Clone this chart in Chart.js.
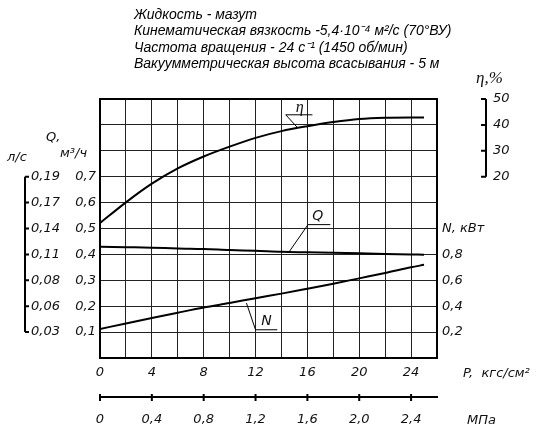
<!DOCTYPE html>
<html lang="ru">
<head>
  <meta charset="UTF-8">
  <title>Характеристика насоса</title>
  <script src="https://cdn.jsdelivr.net/npm/chart.js"></script>
  <style>
    body { margin: 0; background: #fff; }
    #wrap { width: 555px; height: 434px; }
  </style>
</head>
<body>
  <div id="wrap"><canvas id="pumpChart"></canvas></div>

  <script>
    // pressure, kgf/cm2
    const pressure = [0, 2, 4, 6, 8, 10, 12, 14, 16, 18, 20, 22, 24, 25];
    // efficiency, %
    const efficiency = [2.1, 10.1, 17.3, 23.2, 27.8, 31.6, 35.0, 37.6, 39.5, 41.1, 42.3, 42.8, 42.9, 42.9];
    // flow, m3/h
    const flowM3h = [0.430, 0.428, 0.426, 0.423, 0.421, 0.417, 0.414, 0.410, 0.408, 0.406, 0.404, 0.402, 0.400, 0.399];
    // power, kW
    const powerKw = [0.224, 0.267, 0.309, 0.350, 0.390, 0.425, 0.462, 0.497, 0.535, 0.574, 0.615, 0.656, 0.700, 0.720];

    // tick labels
    const pressureTicks = ['0', '4', '8', '12', '16', '20', '24'];
    const mpaTicks = ['0', '0,4', '0,8', '1,2', '1,6', '2,0', '2,4'];
    const flowM3hTicks = ['0,1', '0,2', '0,3', '0,4', '0,5', '0,6', '0,7'];
    const flowLsTicks = ['0,03', '0,06', '0,08', '0,11', '0,14', '0,17', '0,19'];
    const powerTicks = ['0,2', '0,4', '0,6', '0,8'];
    const etaTicks = ['20', '30', '40', '50'];

    const titleLines = [
      'Жидкость - мазут',
      'Кинематическая вязкость -5,4·10⁻⁴ м²/с (70°ВУ)',
      'Частота вращения - 24 с⁻¹ (1450 об/мин)',
      'Вакуумметрическая высота всасывания - 5 м'
    ];

    const tickFont = { family: '"DejaVu Sans", sans-serif', size: 13, style: 'italic', weight: 200 };
    const tickCss = 'italic 200 13px "DejaVu Sans", sans-serif';

    // curve callouts, in x / Q-axis units
    const callouts = [
      { text: 'η', tx: 15.4, ty: 0.966, u0: 14.33, u1: 16.39, uy: 0.939, ex: 15.19, ey: 0.892, serif: true },
      { text: 'Q', tx: 16.8, ty: 0.546, u0: 16.05, u1: 17.77, uy: 0.515, ex: 14.58, ey: 0.409 },
      { text: 'N', tx: 12.84, ty: 0.14, u0: 12.0, u1: 13.68, uy: 0.109, ex: 11.3, ey: 0.212 }
    ];

    const toXY = (ys) => pressure.map((p, i) => ({ x: p, y: ys[i] }));

    const decor = {
      id: 'decor',
      afterDraw(chart) {
        const { ctx, scales } = chart;
        const x = scales.x, y = scales.y, ls = scales.yLs, eta = scales.yEta, mpa = scales.xMpa;
        ctx.save();
        ctx.strokeStyle = '#000';
        ctx.fillStyle = '#000';

        // header
        ctx.font = 'italic 14px "Liberation Sans", Arial, sans-serif';
        ctx.textBaseline = 'middle';
        ctx.textAlign = 'left';
        titleLines.forEach((t, i) => ctx.fillText(t, 134, 15 + i * 16.5));

        // l/s bracket
        ctx.lineWidth = 2;
        const lx = ls.left + 25;
        ctx.beginPath();
        ctx.moveTo(lx, ls.getPixelForValue(0.7));
        ctx.lineTo(lx, ls.getPixelForValue(0.1));
        for (let i = 1; i <= 7; i++) {
          const py = ls.getPixelForValue(i / 10);
          ctx.moveTo(lx, py);
          ctx.lineTo(lx + 4, py);
        }
        ctx.stroke();

        // eta bracket
        const ex = eta.left - 3;
        ctx.beginPath();
        ctx.moveTo(ex, eta.getPixelForValue(50));
        ctx.lineTo(ex, eta.getPixelForValue(20));
        for (let v = 20; v <= 50; v += 10) {
          const py = eta.getPixelForValue(v);
          ctx.moveTo(ex - 5, py);
          ctx.lineTo(ex, py);
        }
        ctx.stroke();

        // MPa tick marks
        ctx.beginPath();
        mpa.ticks.forEach(t => {
          const px = mpa.getPixelForValue(t.value);
          ctx.moveTo(px, mpa.top - 3);
          ctx.lineTo(px, mpa.top + 4);
        });
        ctx.stroke();

        // axis titles
        ctx.font = tickCss;
        ctx.fillStyle = '#111';
        ctx.fillText('Q,', 46, 138);
        ctx.fillText('м³/ч', 60, 154);
        ctx.fillText('л/с', 7, 158);
        ctx.fillText('P,  кгс/см²', 463, 374);
        ctx.fillText('МПа', 467, 421);
        ctx.font = 'italic 17px "Liberation Serif", serif';
        ctx.fillText('η,%', 476, 79);

        // callouts
        ctx.lineWidth = 1;
        callouts.forEach(c => {
          const x0 = x.getPixelForValue(c.u0), x1 = x.getPixelForValue(c.u1);
          const uy = y.getPixelForValue(c.uy);
          ctx.beginPath();
          ctx.moveTo(x1, uy);
          ctx.lineTo(x0, uy);
          ctx.lineTo(x.getPixelForValue(c.ex), y.getPixelForValue(c.ey));
          ctx.stroke();
          ctx.font = c.serif ? 'italic 16px "Liberation Serif", serif' : 'italic 200 14px "DejaVu Sans", sans-serif';
          ctx.textAlign = 'center';
          ctx.fillText(c.text, x.getPixelForValue(c.tx), y.getPixelForValue(c.ty));
          ctx.textAlign = 'left';
        });
        ctx.restore();
      }
    };

    const line = (data, axis) => ({
      data: data,
      yAxisID: axis,
      borderColor: '#000',
      borderWidth: 2,
      pointRadius: 0,
      fill: false,
      tension: 0.4,
      cubicInterpolationMode: 'monotone'
    });

    new Chart(document.getElementById('pumpChart'), {
      type: 'line',
      data: {
        datasets: [
          line(toXY(efficiency), 'yEta'),
          line(toXY(flowM3h), 'y'),
          line(toXY(powerKw), 'yN')
        ]
      },
      options: {
        responsive: true,
        maintainAspectRatio: false,
        animation: false,
        layout: { padding: { left: 0, right: 0, top: 99, bottom: 0 } },
        plugins: { legend: { display: false }, tooltip: { enabled: false } },
        scales: {
          x: {
            type: 'linear', position: 'bottom', weight: 0,
            min: 0, max: 26,
            afterFit: s => { s.height = 39; },
            border: { display: true, width: 2, color: '#000' },
            grid: {
              color: '#222', drawTicks: false,
              lineWidth: c => (c.tick && c.tick.value >= 26 ? 2 : 1)
            },
            ticks: {
              stepSize: 2, autoSkip: false, maxRotation: 0, padding: 7,
              font: tickFont, color: '#111',
              callback: v => (v % 4 === 0 && v <= 24 ? pressureTicks[v / 4] : '')
            }
          },
          xMpa: {
            type: 'linear', position: 'bottom', weight: 1,
            min: 0, max: 2.6,
            afterFit: s => { s.height = 37; },
            border: { display: true, width: 2, color: '#000' },
            grid: { display: false, drawTicks: false },
            ticks: {
              stepSize: 0.4, includeBounds: false, autoSkip: false, maxRotation: 0, padding: 15,
              font: tickFont, color: '#111',
              callback: (v, i) => mpaTicks[i] ?? ''
            }
          },
          y: {
            type: 'linear', position: 'left', weight: 0,
            min: 0, max: 1,
            afterFit: s => { s.width = 38; },
            border: { display: true, width: 2, color: '#000' },
            grid: {
              color: c => (c.tick && c.tick.value >= 1 ? '#000' : '#222'), drawTicks: false,
              lineWidth: c => (c.tick && c.tick.value >= 1 ? 2 : 1)
            },
            ticks: {
              stepSize: 0.1, autoSkip: false, padding: 4,
              font: tickFont, color: '#111',
              callback: v => { const i = Math.round(v * 10); return i >= 1 && i <= 7 ? flowM3hTicks[i - 1] : ''; }
            }
          },
          yLs: {
            type: 'linear', position: 'left', weight: 1,
            min: 0, max: 1,
            afterFit: s => { s.width = 62; },
            border: { display: false },
            grid: { display: false, drawTicks: false },
            ticks: {
              stepSize: 0.1, autoSkip: false, padding: 2,
              font: tickFont, color: '#111',
              callback: v => { const i = Math.round(v * 10); return i >= 1 && i <= 7 ? flowLsTicks[i - 1] : ''; }
            }
          },
          yN: {
            type: 'linear', position: 'right', weight: 0,
            min: 0, max: 2,
            afterFit: s => { s.width = 52; },
            border: { display: true, width: 2, color: '#000' },
            grid: { drawOnChartArea: false, drawTicks: false },
            ticks: {
              stepSize: 0.2, autoSkip: false, padding: 5,
              font: tickFont, color: '#111',
              callback: v => {
                const i = Math.round(v * 5);
                if (i === 5) return 'N, кВт';
                return i >= 1 && i <= 4 ? powerTicks[i - 1] : '';
              }
            }
          },
          yEta: {
            type: 'linear', position: 'right', weight: 1,
            min: -50, max: 50,
            afterFit: s => { s.width = 66; },
            border: { display: false },
            grid: { display: false, drawTicks: false },
            ticks: {
              stepSize: 10, autoSkip: false, padding: 4,
              font: tickFont, color: '#111',
              callback: v => (v >= 20 ? etaTicks[(v - 20) / 10] : '')
            }
          }
        }
      },
      plugins: [decor]
    });
  </script>
</body>
</html>
